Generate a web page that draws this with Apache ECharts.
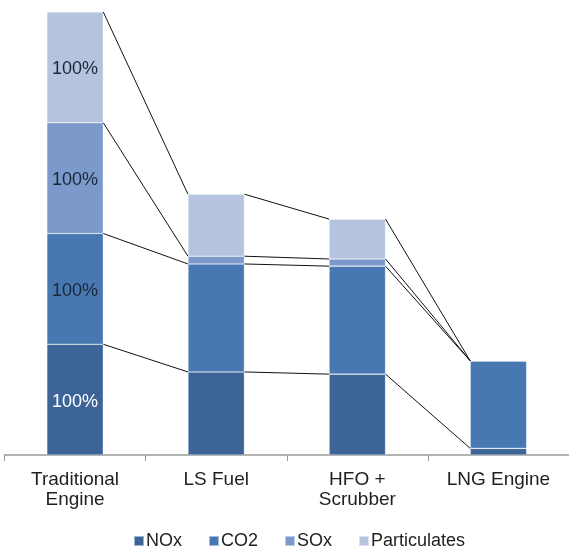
<!DOCTYPE html>
<html>
<head>
<meta charset="utf-8">
<script src="https://cdn.jsdelivr.net/npm/echarts@6/dist/echarts.min.js"></script>
<style>
html,body{margin:0;padding:0;background:#fff;}
#chart{width:569px;height:550px;}
</style>
</head>
<body>
<div id="chart"></div>
<script>
var categories = ['Traditional\nEngine', 'LS Fuel', 'HFO +\nScrubber', 'LNG Engine'];
var seriesNames = ['NOx', 'CO2', 'SOx', 'Particulates'];
var noxValues = [100, 75, 73, 6];
var co2Values = [100, 97.5, 97.5, 79];
var soxValues = [100, 7, 6.5, 0];
var particulateValues = [100, 56, 36, 0];
var traditionalLabels = ['100%', '100%', '100%', '100%'];

var allValues = [noxValues, co2Values, soxValues, particulateValues];
var colors = ['#3c6497', '#4878b1', '#7b9acb', '#b5c3de'];
var labelColors = ['#ffffff', '#1c2838', '#1c2838', '#1c2838'];
var barPct = 0.40;
var FONT = 'Liberation Sans, Arial, sans-serif';

// cumulative tops
var cum = allValues.map(function(){ return []; });
for (var c = 0; c < categories.length; c++) {
  var s = 0;
  for (var k = 0; k < allValues.length; k++) {
    s += allValues[k][c];
    cum[k][c] = s;
  }
}
var connData = [];
for (var i = 0; i < categories.length - 1; i++) {
  for (var k2 = 0; k2 < allValues.length; k2++) {
    connData.push([i, cum[k2][i], cum[k2][i + 1]]);
  }
}

var series = seriesNames.map(function(name, k) {
  return {
    name: name,
    type: 'bar',
    stack: 'total',
    barWidth: (barPct * 100) + '%',
    data: allValues[k].map(function(v, ci) {
      var d = { value: v };
      if (ci === 0) {
        d.label = {
          show: true,
          formatter: traditionalLabels[k],
          color: labelColors[k],
          fontSize: 18,
          fontFamily: FONT,
          position: 'inside',
          offset: [0, 2]
        };
      }
      return d;
    }),
    itemStyle: { color: colors[k], borderColor: 'rgba(255,255,255,0.5)', borderWidth: 0.6 },
    emphasis: { disabled: true }
  };
});

series.push({
  type: 'custom',
  name: 'connectors',
  z: 5,
  silent: true,
  renderItem: function(params, api) {
    var i = api.value(0);
    var p1 = api.coord([i, api.value(1)]);
    var p2 = api.coord([i + 1, api.value(2)]);
    var band = api.size([1, 0])[0];
    var half = band * barPct / 2;
    return {
      type: 'line',
      shape: { x1: p1[0] + half, y1: p1[1], x2: p2[0] - half, y2: p2[1] },
      style: { stroke: '#111', lineWidth: 1 }
    };
  },
  data: connData
});

var chart = echarts.init(document.getElementById('chart'));
chart.setOption({
  animation: false,
  textStyle: { fontFamily: FONT },
  grid: { left: 4.5, width: 566, top: 12, height: 443 },
  legend: {
    data: seriesNames,
    left: 128,
    top: 527,
    itemWidth: 10,
    itemHeight: 10,
    itemGap: 26,
    icon: 'rect',
    textStyle: { fontSize: 18, color: '#1f1f1f', fontFamily: FONT, padding: [0, 0, 0, -3] }
  },
  xAxis: {
    type: 'category',
    data: categories,
    axisLine: { lineStyle: { color: '#9a9a9a', width: 1.5 } },
    axisTick: { show: true, length: 6, lineStyle: { color: '#9a9a9a' } },
    axisLabel: { fontSize: 19, color: '#1f1f1f', lineHeight: 20, margin: 15, fontFamily: FONT }
  },
  yAxis: {
    type: 'value',
    min: 0,
    max: 400,
    show: false,
    splitLine: { show: false }
  },
  series: series
});
</script>
</body>
</html>
